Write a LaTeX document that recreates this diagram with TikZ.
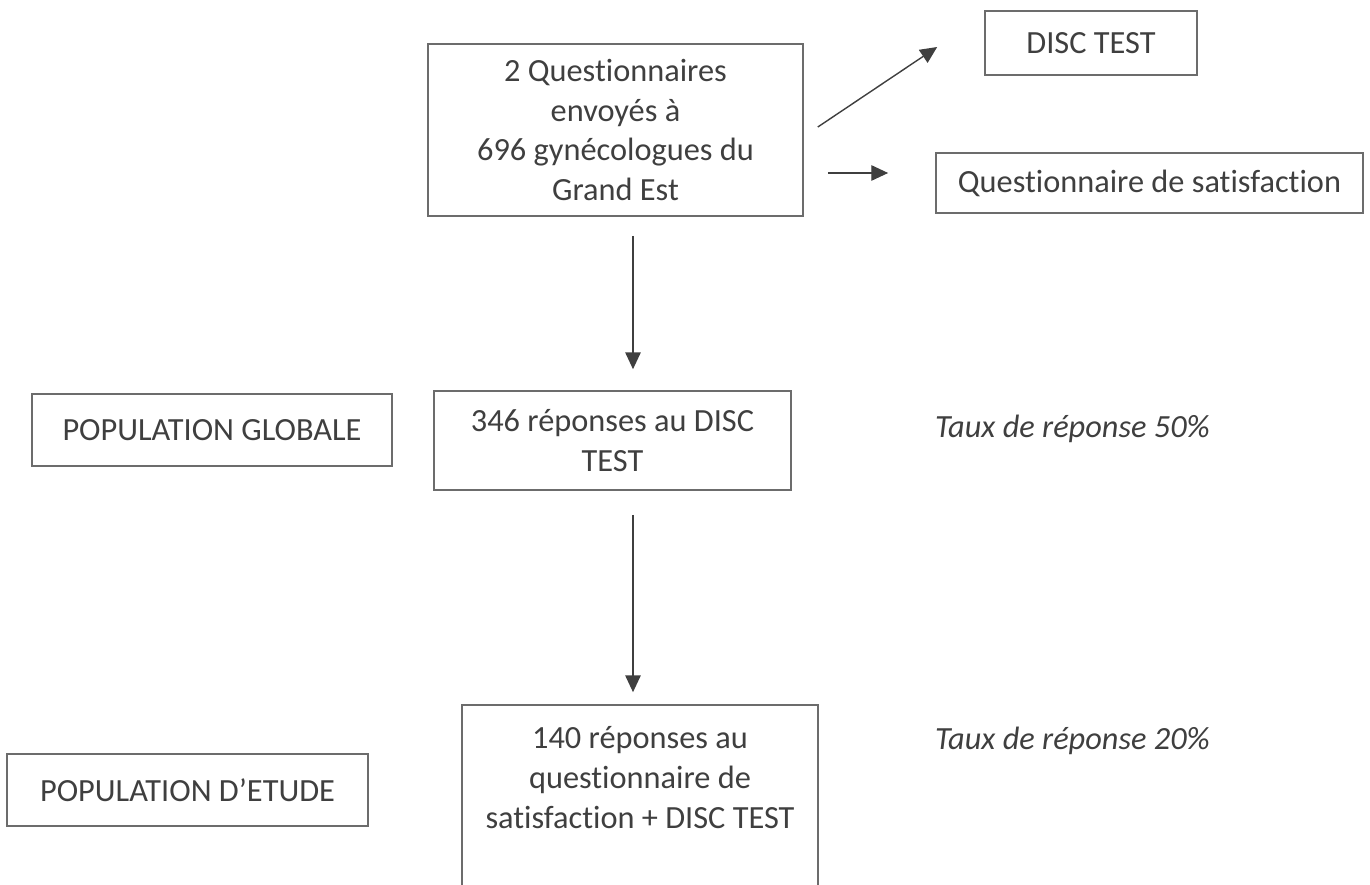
\documentclass[tikz,border=0pt]{standalone}
\usepackage{fontspec}
\setmainfont{Carlito}[Ligatures=NoCommon]
\usetikzlibrary{positioning,arrows.meta}
\definecolor{cink}{HTML}{3f3f3f}
\definecolor{cframe}{HTML}{6c6c6c}

\tikzset{
  boxed/.style={draw=cframe, line width=1.1pt, align=center, inner sep=0pt},
  flow/.style={cink, line width=1pt, -{Triangle[length=12pt,width=11pt]}},
}

\begin{document}
\begin{tikzpicture}[x=0.025cm, y=-0.025cm, every node/.style={font=\fontsize{23}{28.4}\selectfont, text=cink}]
      \useasboundingbox (0,0) rectangle (1370,885);
      \clip (0,0) rectangle (1370,885);
      % main column
      \node[boxed, minimum width=9.375cm, minimum height=4.3cm] (top) at (615.5,130) {2 Questionnaires\\ envoyés à\\ 696 gynécologues du\\ Grand Est};
      \node[boxed, minimum width=8.925cm, minimum height=2.475cm] (mid) at (612.5,440.5) {346 réponses au DISC\\ TEST};
      \node[boxed, draw=none, minimum width=8.85cm, minimum height=3.6cm] (bot) at (640,778) {140 réponses au\\ questionnaire de\\ satisfaction + DISC TEST};
      \draw[cframe, line width=1.1pt] ([yshift=-2cm]bot.south west) -- (bot.north west) -- (bot.north east) -- ([yshift=-2cm]bot.south east);
      % the two questionnaires
      \node[boxed, minimum width=5.3cm, minimum height=1.6cm] (disc) at (1091,43) {DISC TEST};
      \node[boxed, minimum width=10.675cm, minimum height=1.5cm] (satis) at (1149.5,183) {Questionnaire de satisfaction};
      % populations on the left, rates on the right
      \node[boxed, minimum width=9cm, minimum height=1.8cm] (glob) at (212,430) {POPULATION GLOBALE};
      \node[boxed, minimum width=9.025cm, minimum height=1.8cm] (etude) at (187.5,790) {POPULATION D’ETUDE};
      \node[font=\fontsize{23}{28.4}\selectfont\itshape] (taux50) at (1072.5,429) {Taux de réponse 50\%};
      \node[font=\fontsize{23}{28.4}\selectfont\itshape] (taux20) at (1072.5,741) {Taux de réponse 20\%};
      % arrows
      \coordinate (ax) at (633,0);
      \coordinate (hy) at (0,173);
      \draw[flow, shorten <=0.475cm, shorten >=0.525cm] (top.south -| ax) -- (mid.north -| ax);
      \draw[flow, shorten <=0.6cm, shorten >=0.325cm] (mid.south -| ax) -- (bot.north -| ax);
      \draw[flow, shorten <=0.6cm, shorten >=1.175cm] (top.east |- hy) -- (satis.west |- hy);
      \draw[flow] ([shift={(14,-3)}]top.east) -- ([shift={(-47,4)}]disc.west);
    \end{tikzpicture}
\end{document}
